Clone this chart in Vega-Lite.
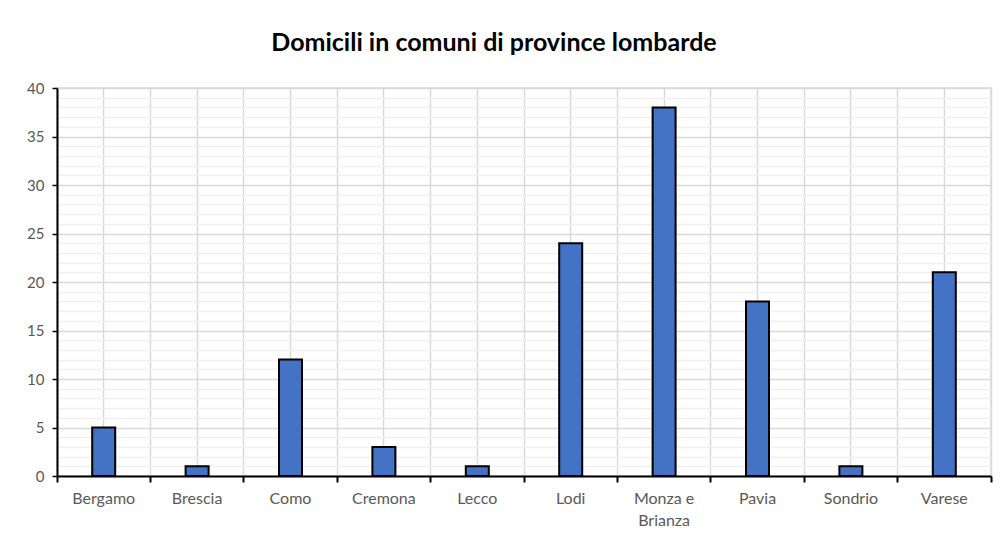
{
  "$schema": "https://vega.github.io/schema/vega-lite/v6.json",
  "width": 934,
  "height": 388,
  "autosize": {"type": "none"},
  "padding": {"left": 57, "top": 88, "right": 11, "bottom": 63},
  "background": "white",
  "title": {
    "text": "Domicili in comuni di province lombarde",
    "font": "Lato",
    "fontSize": 25,
    "fontWeight": "bold",
    "color": "#000000",
    "anchor": "middle",
    "dx": -30,
    "offset": 25
  },
  "data": {
    "values": [
      {"provincia": "Bergamo", "domicili": 5},
      {"provincia": "Brescia", "domicili": 1},
      {"provincia": "Como", "domicili": 12},
      {"provincia": "Cremona", "domicili": 3},
      {"provincia": "Lecco", "domicili": 1},
      {"provincia": "Lodi", "domicili": 24},
      {"provincia": "Monza e Brianza", "domicili": 38},
      {"provincia": "Pavia", "domicili": 18},
      {"provincia": "Sondrio", "domicili": 1},
      {"provincia": "Varese", "domicili": 21}
    ]
  },
  "config": {
    "view": {"stroke": "#d9d9d9", "strokeWidth": 1.5},
    "axis": {
      "labelFont": "Lato",
      "labelFontSize": 15,
      "labelColor": "#595959",
      "title": null
    }
  },
  "resolve": {"axis": {"x": "independent", "y": "independent"}},
  "layer": [
    {
      "mark": {"type": "bar", "fillOpacity": 0, "strokeOpacity": 0},
      "encoding": {
        "x": {
          "field": "provincia",
          "type": "nominal",
          "sort": null,
          "scale": {"paddingInner": 0, "paddingOuter": 0},
          "axis": {
            "orient": "bottom",
            "bandPosition": 1,
            "tickExtra": true,
            "grid": true,
            "gridColor": "#d9d9d9",
            "gridWidth": 1.5,
            "ticks": true,
            "tickColor": "#000000",
            "tickSize": 6,
            "tickWidth": 2,
            "labels": false,
            "domain": true,
            "domainColor": "#000000",
            "domainWidth": 2,
            "title": null
          }
        },
        "y": {
          "field": "domicili",
          "type": "quantitative",
          "scale": {"domain": [0, 40]},
          "axis": {
            "orient": "left",
            "values": [1,2,3,4,6,7,8,9,11,12,13,14,16,17,18,19,21,22,23,24,26,27,28,29,31,32,33,34,36,37,38,39],
            "grid": true,
            "gridColor": "#f0f0f0",
            "gridWidth": 1.5,
            "ticks": false,
            "labels": false,
            "domain": false,
            "title": null
          }
        }
      }
    },
    {
      "mark": {"type": "bar", "color": "#4472C4", "stroke": "#000000", "strokeWidth": 2, "size": 23},
      "encoding": {
        "x": {
          "field": "provincia",
          "type": "nominal",
          "sort": null,
          "axis": {
            "orient": "bottom",
            "bandPosition": 0.5,
            "grid": true,
            "gridColor": "#d9d9d9",
            "gridWidth": 1.5,
            "ticks": false,
            "domain": false,
            "labelAngle": 0,
            "labelPadding": 22,
            "labelBaseline": "middle",
            "labelLineHeight": 22,
            "labelFontSize": 16,
            "labelExpr": "datum.label == 'Monza e Brianza' ? ['Monza e', 'Brianza'] : datum.label",
            "title": null
          }
        },
        "y": {
          "field": "domicili",
          "type": "quantitative",
          "axis": {
            "orient": "left",
            "values": [0, 5, 10, 15, 20, 25, 30, 35, 40],
            "grid": true,
            "gridColor": "#d9d9d9",
            "gridWidth": 1.5,
            "ticks": true,
            "tickColor": "#000000",
            "tickSize": 5,
            "tickWidth": 1.5,
            "labelPadding": 8,
            "domain": true,
            "domainColor": "#000000",
            "domainWidth": 2,
            "title": null
          }
        }
      }
    }
  ]
}
